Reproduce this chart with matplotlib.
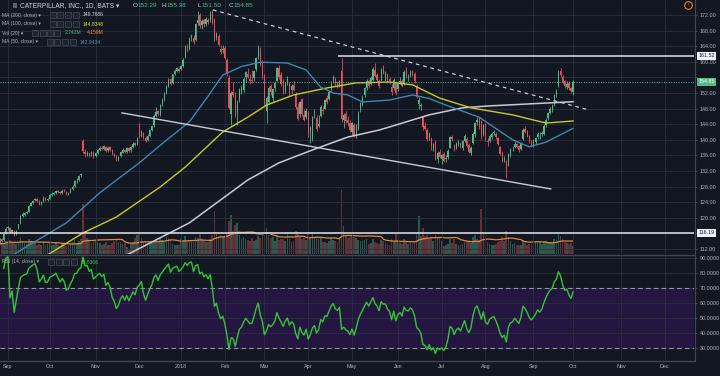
import numpy as np
import pandas as pd
import matplotlib
matplotlib.use("Agg")
import matplotlib.pyplot as plt
from matplotlib.patches import Rectangle
from matplotlib.lines import Line2D

# CAT daily bars, Aug 28 2017 .. Oct 1 2018  (bar 0 = Sep 1 2017)
first_bar = -4

opens = [
    113.9, 114.6, 114.3, 116.0,
    117.4, 117.3, 116.3, 116.7, 115.9, 117.3, 118.6, 120.5, 120.8, 121.3, 121.6, 123.1, 123.8, 124.5, 124.9, 124.3, 123.6, 124.2, 125.1, 124.6,
    124.9, 125.9, 126.2, 126.4, 126.9, 126.5, 126.4, 127.1, 126.7, 126.2, 126.5, 127.4, 128.1, 129.6, 129.7, 130.9, 139.6, 137.0, 136.2, 136.7, 136.0, 136.9,
    135.9, 136.6, 137.4, 138.0, 137.7, 138.2, 137.3, 138.1, 137.4, 136.3, 135.8, 134.9, 135.8, 136.7, 137.5, 136.8, 137.9, 137.3, 138.2, 139.1, 138.8,
    143.6, 141.0, 141.8, 140.5, 139.9, 141.1, 142.5, 143.7, 146.1, 147.3, 146.6, 149.1, 150.4, 152.0, 153.8, 155.5, 154.6, 156.9, 157.7, 158.2,
    158.2, 159.0, 161.2, 163.9, 163.4, 166.2, 166.0, 165.6, 169.9, 172.0, 169.4, 170.6, 169.8, 170.7, 170.6, 172.8, 170.6, 166.3, 166.7, 163.3, 163.1,
    163.6, 160.5, 155.8, 146.5, 152.3, 151.5, 147.2, 150.4, 152.3, 152.7, 156.2, 157.0, 155.6, 155.4, 155.8, 158.1, 161.3, 163.2, 159.6,
    156.6, 147.4, 149.8, 153.9, 150.6, 153.4, 155.2, 158.5, 156.6, 155.0, 152.6, 154.6, 154.4, 152.7, 154.0, 151.8, 148.4, 146.6, 150.4, 146.3, 145.8,
    147.0, 142.0, 140.2, 146.8, 145.6, 143.6, 146.2, 147.6, 148.0, 150.6, 150.4, 153.0, 155.0, 155.7, 154.3, 154.0, 157.6, 145.0, 146.6, 145.2, 144.4,
    142.0, 143.9, 141.0, 142.9, 147.6, 149.0, 151.6, 153.3, 155.0, 154.4, 155.3, 158.0, 156.5, 155.1, 155.4, 158.3, 156.1, 156.8, 155.6, 153.6, 153.2, 154.9,
    153.0, 154.8, 155.2, 154.3, 157.9, 155.9, 156.6, 157.6, 157.0, 153.9, 149.2, 148.6, 146.0, 143.6, 142.6, 140.4, 140.2, 138.0, 139.4, 135.0, 137.0,
    135.0, 136.4, 135.2, 135.6, 138.0, 140.8, 138.6, 138.0, 139.0, 139.1, 137.8, 139.8, 140.3, 138.6, 136.7, 139.2, 141.4, 144.6, 145.6, 144.8, 141.6,
    143.9, 139.6, 139.8, 140.8, 141.8, 141.6, 140.4, 138.2, 136.6, 134.9, 134.6, 133.6, 136.0, 137.8, 138.2, 138.9, 138.3, 137.6, 140.2, 142.9, 142.0, 140.9, 139.4,
    138.6, 139.4, 140.6, 140.9, 141.5, 141.6, 143.8, 145.6, 147.0, 147.6, 148.8, 151.6, 153.8, 157.6, 156.2, 155.0, 153.6, 154.6, 153.3, 152.29,
]
highs = [
    114.8, 114.9, 116.2, 117.6,
    118.0, 117.6, 117.2, 116.9, 116.9, 118.5, 120.7, 121.4, 121.5, 121.8, 123.2, 124.0, 124.6, 125.2, 125.1, 124.5, 124.4, 125.6, 125.4, 125.1,
    126.1, 126.5, 126.7, 127.2, 127.1, 126.8, 127.3, 127.4, 126.9, 126.7, 127.6, 128.3, 129.8, 130.1, 131.1, 131.6, 140.3, 137.6, 137.1, 137.0, 137.2, 137.1,
    136.8, 137.6, 138.3, 138.4, 138.7, 138.5, 138.3, 138.4, 137.6, 136.7, 136.1, 135.9, 137.1, 137.8, 137.7, 138.1, 138.2, 138.4, 139.4, 139.5, 140.8,
    144.3, 142.5, 142.1, 140.9, 141.4, 142.7, 143.9, 146.5, 148.4, 147.6, 149.3, 150.7, 152.2, 154.1, 155.8, 155.9, 157.0, 158.1, 158.7, 158.6,
    159.2, 160.9, 164.2, 164.5, 166.3, 167.2, 166.8, 169.9, 173.1, 172.6, 170.9, 171.2, 171.4, 171.2, 173.0, 173.4, 171.3, 167.6, 167.2, 164.2, 164.3,
    164.0, 161.1, 156.6, 152.6, 154.7, 152.3, 150.1, 153.2, 154.0, 156.0, 157.6, 158.3, 156.8, 157.9, 158.0, 161.2, 164.3, 163.8, 160.4,
    157.0, 151.2, 153.9, 154.3, 153.4, 155.0, 158.7, 159.2, 157.4, 155.6, 154.8, 156.3, 154.8, 154.2, 155.2, 152.2, 149.5, 149.9, 150.8, 147.8, 148.2,
    147.4, 143.6, 146.2, 147.9, 146.3, 146.4, 148.9, 148.6, 150.4, 151.4, 152.6, 155.2, 156.6, 156.1, 155.1, 155.4, 160.9, 146.9, 147.4, 146.0, 145.2,
    144.6, 144.4, 144.0, 147.4, 149.8, 151.4, 153.5, 155.6, 155.5, 156.3, 158.6, 159.6, 157.1, 155.6, 158.4, 159.1, 157.6, 157.0, 156.2, 154.4, 155.8, 155.2,
    154.6, 156.0, 155.6, 157.8, 158.6, 156.8, 157.9, 158.0, 157.4, 154.2, 150.9, 149.4, 146.2, 144.5, 143.1, 141.9, 140.6, 139.3, 139.9, 137.1, 137.7,
    136.4, 136.8, 136.0, 137.6, 140.9, 141.3, 139.0, 139.4, 139.9, 139.5, 139.9, 141.4, 140.6, 139.2, 138.3, 142.0, 144.6, 145.9, 145.8, 145.1, 144.0,
    144.2, 140.4, 141.4, 141.9, 142.6, 142.0, 140.8, 138.5, 137.1, 135.8, 134.8, 136.7, 137.9, 138.4, 139.6, 139.2, 138.6, 139.4, 143.0, 143.6, 142.4, 141.2, 139.9,
    140.1, 140.8, 142.0, 141.9, 142.3, 144.0, 145.6, 147.2, 148.4, 149.1, 151.8, 153.1, 157.9, 158.3, 156.5, 155.4, 155.0, 155.1, 153.6, 155.38,
]
lows = [
    113.4, 113.8, 114.1, 115.8,
    116.9, 116.0, 116.0, 115.3, 115.6, 117.1, 118.4, 120.2, 120.5, 120.9, 121.5, 122.9, 123.6, 124.2, 124.1, 123.2, 123.3, 124.0, 124.3, 124.2,
    124.7, 125.6, 125.9, 126.1, 126.3, 126.0, 126.2, 126.6, 125.9, 125.9, 126.3, 127.2, 127.9, 129.0, 129.5, 130.5, 136.6, 135.7, 135.8, 135.6, 135.8, 135.4,
    135.5, 136.3, 137.1, 137.3, 137.4, 136.9, 137.0, 137.2, 136.1, 135.5, 134.6, 134.5, 135.5, 136.5, 136.6, 136.6, 136.9, 137.0, 138.0, 138.4, 138.6,
    140.5, 140.7, 140.3, 139.4, 139.6, 140.8, 142.2, 143.4, 145.8, 146.1, 146.2, 148.7, 150.0, 151.7, 153.5, 154.0, 154.4, 156.7, 157.4, 157.4,
    157.8, 158.7, 160.9, 162.6, 163.0, 165.4, 164.6, 165.3, 169.5, 168.6, 168.4, 169.0, 169.3, 169.6, 170.3, 169.8, 165.4, 165.6, 164.1, 161.9, 162.2,
    160.7, 156.4, 147.8, 143.8, 150.9, 145.9, 143.9, 149.8, 151.8, 152.2, 154.9, 155.9, 154.3, 154.6, 155.0, 157.6, 160.8, 158.9, 155.6,
    148.6, 144.3, 149.2, 151.6, 149.8, 152.6, 155.0, 155.6, 153.8, 151.7, 152.0, 154.1, 151.3, 152.1, 152.4, 147.8, 145.0, 145.9, 146.2, 144.8, 145.4,
    140.6, 139.2, 139.8, 145.7, 142.2, 143.3, 145.9, 146.7, 147.8, 149.2, 150.1, 152.6, 154.6, 153.8, 153.2, 153.6, 144.6, 143.1, 144.4, 143.6, 141.9,
    141.2, 140.8, 140.5, 142.6, 147.2, 148.6, 151.0, 152.9, 153.4, 154.0, 155.0, 156.0, 154.9, 153.4, 155.1, 156.9, 155.2, 154.6, 154.4, 151.6, 152.9, 151.6,
    152.6, 154.2, 153.5, 154.0, 155.8, 155.0, 156.2, 156.4, 154.6, 150.6, 147.8, 147.6, 142.4, 142.4, 139.8, 139.9, 137.4, 137.2, 134.8, 134.1, 135.3,
    133.9, 134.3, 134.4, 135.2, 137.8, 139.6, 137.1, 137.6, 138.4, 137.8, 137.4, 139.4, 138.1, 136.6, 136.1, 138.9, 140.8, 143.9, 142.9, 140.2, 141.1,
    139.8, 138.4, 139.4, 140.3, 141.2, 140.2, 138.6, 136.1, 134.2, 134.4, 130.2, 133.4, 135.6, 137.2, 137.9, 137.9, 136.9, 137.3, 140.0, 141.7, 140.6, 139.2, 138.2,
    138.2, 138.9, 140.1, 140.3, 140.9, 141.2, 143.4, 145.1, 146.6, 147.2, 148.6, 151.0, 153.5, 156.1, 154.3, 153.4, 153.1, 152.8, 151.9, 151.50,
]
closes = [
    114.5, 114.1, 115.9, 117.2,
    117.6, 116.2, 116.8, 115.6, 116.7, 118.3, 120.4, 120.9, 121.2, 121.4, 123.0, 123.7, 124.3, 124.8, 124.4, 123.5, 124.1, 125.2, 124.6, 124.7,
    125.8, 126.1, 126.4, 126.9, 126.6, 126.3, 127.0, 126.8, 126.2, 126.4, 127.3, 128.0, 129.5, 129.6, 130.8, 131.2, 137.2, 136.3, 136.6, 136.0, 136.8, 135.8,
    136.5, 137.3, 137.9, 137.6, 138.3, 137.2, 138.0, 137.5, 136.4, 135.9, 135.0, 135.6, 136.8, 137.4, 136.9, 137.8, 137.2, 138.1, 139.0, 138.7, 140.4,
    140.9, 141.9, 140.6, 139.8, 141.0, 142.4, 143.5, 146.0, 147.2, 146.5, 148.9, 150.3, 151.8, 153.6, 155.4, 154.3, 156.8, 157.6, 158.3, 157.6,
    158.8, 160.5, 163.8, 163.4, 165.9, 166.5, 165.1, 169.6, 170.8, 169.2, 170.4, 169.6, 170.9, 170.2, 172.6, 170.2, 165.9, 167.1, 164.4, 162.6, 163.4,
    161.0, 156.8, 148.2, 152.0, 151.6, 146.4, 149.6, 152.8, 153.6, 155.7, 157.3, 156.2, 155.0, 155.1, 157.6, 160.9, 163.6, 159.2, 156.4,
    149.2, 150.8, 153.4, 152.3, 153.1, 154.6, 158.3, 156.0, 154.2, 152.2, 154.3, 155.5, 152.4, 153.7, 152.9, 148.3, 145.3, 149.6, 146.6, 145.2, 147.4,
    141.5, 143.2, 145.8, 146.9, 142.8, 144.1, 148.5, 147.3, 150.1, 149.8, 152.3, 154.8, 156.1, 154.2, 153.6, 154.9, 145.3, 146.3, 144.8, 144.2, 142.4,
    144.3, 141.2, 143.6, 147.0, 149.4, 151.1, 153.2, 155.2, 153.9, 155.9, 158.2, 156.3, 155.4, 153.9, 158.0, 157.2, 157.3, 155.7, 155.0, 152.3, 155.4, 151.9,
    154.3, 155.1, 153.9, 157.5, 156.4, 156.2, 157.4, 156.8, 155.0, 151.0, 150.2, 148.8, 143.2, 142.8, 140.2, 141.5, 138.3, 138.9, 135.2, 136.6, 135.7,
    136.1, 134.6, 135.4, 137.2, 140.6, 140.1, 137.5, 138.8, 139.3, 138.2, 139.6, 141.0, 138.4, 136.9, 138.0, 141.6, 144.3, 145.2, 143.4, 141.2, 143.7,
    140.2, 139.4, 141.0, 141.5, 141.9, 140.6, 138.9, 136.4, 134.6, 135.2, 132.4, 136.3, 137.6, 137.9, 139.0, 138.2, 137.4, 139.1, 142.6, 142.0, 141.0, 139.6, 138.9,
    139.6, 140.4, 141.6, 141.1, 141.8, 143.6, 145.2, 146.8, 147.9, 148.6, 151.4, 152.6, 157.3, 156.6, 154.9, 153.8, 154.3, 153.2, 152.5, 154.85,
]
# volume, millions
volumes = [
    3.2, 3.6, 3.4, 4.4,
    4.1, 4.6, 3.5, 3.9, 3.2, 4.0, 5.6, 4.3, 3.6, 3.3, 4.9, 4.2, 3.7, 3.9, 3.1, 3.4, 3.0, 4.1, 2.9, 3.2,
    4.0, 3.1, 2.9, 3.6, 2.8, 2.7, 3.3, 2.9, 2.6, 2.8, 3.4, 3.9, 4.6, 3.5, 4.2, 4.8, 16.5, 7.6, 5.1, 4.4, 3.6, 4.2,
    4.6, 3.8, 3.5, 3.0, 3.4, 3.9, 3.1, 2.9, 3.6, 4.4, 4.9, 4.0, 3.8, 3.2, 3.5, 2.4, 1.6, 3.3, 4.0, 5.1, 6.2,
    6.8, 5.2, 4.0, 3.9, 3.6, 3.2, 3.5, 4.6, 5.0, 4.1, 5.6, 4.7, 4.3, 5.4, 5.2, 4.6, 3.2, 3.1, 3.0, 2.9,
    4.9, 4.6, 6.0, 4.3, 4.6, 4.2, 4.1, 5.6, 5.2, 6.4, 4.8, 4.2, 3.9, 3.8, 5.0, 6.2, 14.2, 7.1, 5.9, 6.3, 5.6,
    5.8, 6.9, 10.8, 12.6, 7.4, 9.4, 10.1, 6.2, 5.0, 5.6, 4.8, 4.5, 4.2, 5.1, 4.4, 4.6, 5.9, 5.3, 6.1,
    10.4, 8.6, 6.2, 5.1, 5.6, 4.4, 6.1, 4.5, 5.0, 4.8, 4.3, 6.6, 4.9, 3.9, 4.1, 7.6, 7.2, 5.6, 5.0, 5.2, 4.6,
    6.4, 5.4, 7.2, 5.6, 5.8, 4.9, 5.1, 3.9, 3.8, 3.5, 4.4, 5.4, 4.6, 4.1, 3.9, 5.6, 21.0, 9.2, 6.3, 5.2, 5.6,
    6.0, 5.4, 5.3, 4.6, 4.4, 4.2, 4.5, 5.0, 3.4, 3.6, 4.9, 4.0, 3.6, 3.3, 4.6, 4.2, 3.5, 3.4, 2.9, 4.8, 4.1, 6.4,
    4.5, 3.6, 3.4, 4.9, 4.2, 3.3, 3.5, 3.6, 4.4, 6.9, 12.4, 5.8, 8.6, 5.9, 6.3, 4.8, 5.4, 4.2, 6.1, 5.2, 5.4,
    4.1, 2.6, 3.0, 3.4, 4.9, 3.6, 5.0, 3.3, 3.1, 2.9, 3.4, 3.8, 4.3, 3.8, 3.5, 5.4, 6.1, 5.0, 4.6, 14.6, 7.0,
    5.4, 4.0, 3.4, 3.1, 3.0, 3.3, 3.9, 4.4, 5.6, 4.1, 7.6, 5.4, 4.2, 3.2, 3.5, 3.0, 2.9, 2.8, 4.6, 3.6, 3.1, 3.3, 3.4,
    4.1, 4.0, 3.9, 3.8, 3.2, 4.4, 4.3, 4.0, 4.0, 3.9, 5.0, 4.6, 7.2, 6.0, 4.9, 3.9, 3.6, 3.3, 3.7, 2.742,
]

# moving averages (bar, value)
ma200_bar = [50, 57, 87, 115, 130, 146, 163, 178, 183, 202, 218, 231, 271]
ma200_val = [108.6, 110.5, 118.7, 129.7, 134.1, 137.4, 140.7, 142.5, 143.3, 146.4, 148.2, 148.7, 149.77]
ma100_bar = [10, 19, 36, 52, 73, 85, 103, 115, 124, 137, 153, 167, 183, 194, 207, 222, 242, 258, 271]
ma100_val = [107.6, 110.5, 116.1, 120.2, 127.9, 133.0, 142.0, 145.8, 148.9, 151.5, 153.3, 154.6, 154.8, 154.1, 150.7, 148.2, 146.4, 144.3, 144.83]
ma50_bar = [-4, 3, 28, 44, 63, 76, 87, 96, 103, 112, 121, 134, 143, 150, 156, 163, 170, 183, 194, 202, 210, 226, 242, 250, 258, 271]
ma50_val = [108.4, 110.7, 118.7, 126.4, 134.1, 139.9, 144.6, 151.2, 156.6, 158.8, 159.9, 159.7, 157.9, 153.5, 152.0, 151.5, 149.7,
            150.2, 151.5, 150.6, 148.9, 145.8, 140.0, 138.2, 139.4, 142.94]

# drawings on the chart
upper_trend = ([98.3, 279.0], [173.3, 147.6])
lower_trend = ([54.7, 260.3], [146.9, 127.4])
resistance = 161.52
resistance_from = 158.2
support = 116.19
last_close = 154.85

month_bars = [0, 20, 42, 63, 83, 104, 123, 144, 165, 187, 208, 229, 252, 271, 294, 315]
month_labels = ["Sep", "Oct", "Nov", "Dec", "2018", "Feb", "Mar", "Apr", "May",
                "Jun", "Jul", "Aug", "Sep", "Oct", "Nov", "Dec"]

# ---- style ----
bg = "#131722"
grid_c = "#2a2f3d"
txt = "#b2b5be"
up_c = "#53b987"
dn_c = "#eb4d5c"
FAM = ["Liberation Sans", "DejaVu Sans"]
plt.rcParams["font.family"] = FAM

o = np.array(opens)
h = np.array(highs)
l = np.array(lows)
c = np.array(closes)
v = np.array(volumes)
bars = np.arange(first_bar, first_bar + len(c))
colors = np.where(c >= o, up_c, dn_c)

W, H = 720, 376
XMAX = 694


def frame(top, bottom):
    return [0, 1 - bottom / H, XMAX / W, (bottom - top) / H]


fig = plt.figure(figsize=(7.2, 3.76), dpi=100, facecolor=bg)
ax = fig.add_axes(frame(0, 254))
axr = fig.add_axes(frame(255, 360), sharex=ax)
ax.set_facecolor(bg)
axr.set_facecolor(bg)

# ---- volume overlay ----
ax_v = ax.twinx()
ax.set_zorder(ax_v.get_zorder() + 1)
ax.patch.set_visible(False)
ax_v.bar(bars, v, width=0.8, color=colors, alpha=0.4, linewidth=0)
vol_ma = pd.Series(v).rolling(20, min_periods=1).mean()
ax_v.plot(bars, vol_ma, color="#e0883a", lw=0.9)
ax_v.set_ylim(0, 83)
ax_v.set_yticks([])
for s in ax_v.spines.values():
    s.set_visible(False)

# ---- candles ----
ax.vlines(bars, l, h, color=colors, lw=0.6, zorder=3)
body_lo = np.minimum(o, c)
body_h = np.maximum(np.abs(c - o), 0.12)
ax.bar(bars, body_h, bottom=body_lo, width=0.62, color=colors, linewidth=0, zorder=3)

# moving averages
ax.plot(ma200_bar, ma200_val, color="#c8cbd4", lw=1.1, zorder=4)
ax.plot(ma100_bar, ma100_val, color="#c9c92c", lw=1.0, zorder=4)
ax.plot(ma50_bar, ma50_val, color="#3f86b0", lw=1.0, zorder=4)

# drawings
ax.plot(*upper_trend, color="#c8cbd4", lw=0.9, ls=(0, (3, 3)), zorder=5)
ax.plot(*lower_trend, color="#c8cbd4", lw=1.0, zorder=5)
ax.hlines(resistance, resistance_from, 340, color="#e0e3eb", lw=1.1, zorder=5)
ax.axhline(support, color="#e0e3eb", lw=1.1, zorder=5)
ax.axhline(last_close, color=up_c, lw=0.7, ls=(0, (1, 1.5)), zorder=5)

ax.set_xlim(-3.8, 329)
ax.set_ylim(110.72, 175.85)
ax.yaxis.tick_right()
price_ticks = np.arange(112, 173, 4)
ax.set_yticks(price_ticks)
# the 116 and 156 labels sit under the value boxes on the scale
ax.set_yticklabels(["" if t in (116, 156) else f"{t:.2f}" for t in price_ticks])
ax.set_xticks(month_bars)
ax.tick_params(axis="x", length=0, labelbottom=False)
ax.tick_params(axis="y", labelcolor=txt, labelsize=3.9, length=2.5, width=0.5,
               pad=1.5, color="#5d606b")
ax.grid(True, color=grid_c, lw=0.6)

# price labels on the scale
for val, lab, fc, tc in [(resistance, "161.52", "#f0f3fa", "#131722"),
                         (last_close, "154.85", up_c, "#ffffff"),
                         (support, "116.19", "#f0f3fa", "#131722")]:
    ax.text(1.006, val, lab, transform=ax.get_yaxis_transform(), fontsize=3.9,
            color=tc, va="center", ha="left", clip_on=False, zorder=10,
            bbox=dict(boxstyle="square,pad=0.3", fc=fc, ec="none"))

# ---- RSI ----
s = pd.Series(c)
d = s.diff()
gain = d.clip(lower=0).ewm(alpha=1 / 14, adjust=True).mean()
loss = (-d.clip(upper=0)).ewm(alpha=1 / 14, adjust=True).mean()
rsi = 100 - 100 / (1 + gain / loss)
rsi[:2] = np.nan   # not enough history for the first bars

axr.axhspan(30, 70, color="#9915ff", alpha=0.14, lw=0)
axr.axhline(70, color="#c3c6d0", lw=0.8, ls=(0, (4, 3)), alpha=0.7)
axr.axhline(30, color="#c3c6d0", lw=0.8, ls=(0, (4, 3)), alpha=0.7)
axr.plot(bars, rsi, color="#36c436", lw=1.0)
axr.set_ylim(22.0, 91.8)
axr.yaxis.tick_right()
axr.set_yticks(np.arange(30, 91, 10))
axr.set_yticklabels([f"{t:.4f}" for t in np.arange(30, 91, 10)])
axr.set_xticks(month_bars)
axr.set_xticklabels(month_labels)
axr.tick_params(axis="y", labelcolor=txt, labelsize=3.9, length=2.5, width=0.5,
                pad=1.5, color="#5d606b")
axr.tick_params(axis="x", length=0, labelsize=3.9, labelcolor=txt, pad=3)
axr.grid(True, color=grid_c, lw=0.6)

for a in (ax, axr):
    for sp in a.spines.values():
        sp.set_visible(False)

# pane separators and scale border
sep = "#434651"
fig.add_artist(Line2D([0, XMAX / W], [1 - 254.5 / H] * 2, color=sep, lw=1))
fig.add_artist(Line2D([0, XMAX / W], [1 - 360.5 / H] * 2, color=sep, lw=1))
fig.add_artist(Line2D([(XMAX + 0.5) / W] * 2, [1 - 360.5 / H, 1], color=sep, lw=0.8))


# ---- legend texts ----
def ftxt(x, y, text, color, size=3.6, **kw):
    fig.text(x / W, 1 - y / H, text, color=color, fontsize=size, va="center",
             ha="left", **kw)


def icons(x0, y):
    for k in range(4):
        fig.add_artist(Rectangle(((x0 + k * 7.5) / W, 1 - (y + 3) / H), 6 / W, 6 / H,
                                 transform=fig.transFigure, fc="#1e222d",
                                 ec="#4a4e5a", lw=0.5))


fig.add_artist(Rectangle((13 / W, 1 - 8 / H), 4 / W, 5 / H, transform=fig.transFigure,
                         fc="#5d606b", ec="none"))
ftxt(20, 5.5, "CATERPILLAR, INC., 1D, BATS \u25be", "#d1d4dc", size=4.8)
for x, lab, val in [(133, "O", "152.29"), (162, "H", "155.38"),
                    (197, "L", "151.50"), (229, "C", "154.85")]:
    ftxt(x, 5.5, lab, "#d1d4dc", size=4.6)
    ftxt(x + 4.3, 5.5, val, up_c, size=4.6)

ftxt(2, 15, "MA (200, close) \u25be", txt)
icons(50, 15)
ftxt(83, 15, "149.7686", "#d1d4dc")
ftxt(2, 24, "MA (100, close) \u25be", txt)
icons(50, 24)
ftxt(83, 24, "144.8348", "#e6e62a")
ftxt(2, 33, "Vol (20) \u25be", txt)
icons(32, 33)
ftxt(65, 33, "2.742M", up_c)
ftxt(87, 33, "4.159M", "#f08d3a")
ftxt(2, 42, "MA (50, close) \u25be", txt)
icons(47, 42)
ftxt(80, 42, "142.9434", "#4f93b8")

ftxt(2, 262, "RSI (14, close) \u25be", txt)
icons(48, 262)
ftxt(81, 262, "68.8366", "#3cc83c")

# earnings marker at the top of the scale
fig.add_artist(Line2D([688 / W], [1 - 5 / H], marker="o", markersize=5.5,
                      mfc="none", mec="#f57c28", mew=0.8))
ftxt(687.2, 5, "!", "#f57c28", size=3.2)

fig.savefig("out.png", dpi=100, facecolor=bg)
